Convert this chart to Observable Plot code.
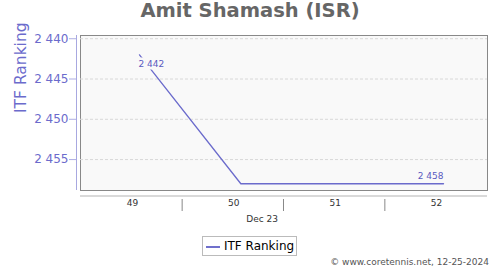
<!DOCTYPE html>
<html><head><meta charset="utf-8">
<script src="https://cdn.jsdelivr.net/npm/d3@7"></script>
<script src="https://cdn.jsdelivr.net/npm/@observablehq/plot@0.6"></script>
<style>
body{margin:0;background:#fff;font-family:"DejaVu Sans",sans-serif;}
#wrap{position:relative;width:500px;height:270px;overflow:hidden;}
#wrap svg{position:absolute;left:0;top:0;}
.title{position:absolute;left:0;width:500px;top:-1px;text-align:center;font-weight:bold;font-size:19.5px;color:#666;white-space:nowrap;}
.legend{position:absolute;left:202px;top:236px;width:93px;height:18px;border:1px solid #bbb;background:#fff;}
.legend .sw{position:absolute;left:3px;top:9px;width:14px;height:0;border-top:2px solid #7070cc;}
.legend .lt{position:absolute;left:21px;top:2px;font-size:12px;color:#000;white-space:nowrap;}
.footer{position:absolute;right:11px;top:257px;font-size:9px;color:#555;white-space:nowrap;}
</style>
</head><body>
<div id="wrap">
  <div class="title">Amit Shamash (ISR)</div>
  <div class="legend"><div class="sw"></div><div class="lt">ITF Ranking</div></div>
  <div class="footer">© www.coretennis.net, 12-25-2024</div>
</div>
<script>
const weeks = [49, 50, 51, 52];
const weekLabels = ["49", "50", "51", "52"];
const ranking = [2442, 2458, 2458, 2458];
const yTicks = [2440, 2445, 2450, 2455];
const separators = [49.5, 50.5, 51.5];
const monthLabels = ["Dec 23"];
const monthPos = [50.21];
const seriesName = "ITF Ranking";

const xDomain = [48.418, 52.434];
const yDomain = [2458.84, 2439.6];

const fmt = d3.formatLocale({decimal: ".", thousands: " ", grouping: [3], currency: ["", ""]}).format(",d");
const data = weeks.map((w, i) => ({week: w, rank: ranking[i]}));
const firstPt = [data[0]];
const lastPt = [data[data.length - 1]];

const lineColor = "#6b6bcc";
const axisColor = "#6b6bcc";

const chart = Plot.plot({
  width: 500, height: 270,
  marginLeft: 80, marginRight: 13, marginTop: 35, marginBottom: 80,
  style: {fontFamily: "DejaVu Sans", background: "transparent", overflow: "visible"},
  x: {domain: xDomain, axis: null},
  y: {domain: yDomain, axis: null},
  marks: [
    Plot.frame({fill: "#f9f9f9", stroke: "#888", strokeWidth: 1}),
    Plot.gridY(yTicks, {stroke: "#d8d8d8", strokeOpacity: 1, strokeDasharray: "3,2"}),
    Plot.axisY(yTicks, {anchor: "left", tickSize: 7, tickPadding: 1, dx: -4, fontSize: 12, color: axisColor, strokeOpacity: 0.55, tickFormat: fmt, label: null}),
    Plot.ruleX([xDomain[0]], {y1: yDomain[0], y2: yDomain[1], dx: -4, stroke: "#a8a8e0"}),
    Plot.text([seriesName], {frameAnchor: "left", dx: -59, rotate: -90, fontSize: 15.5, fill: axisColor}),
    Plot.ruleY([yDomain[0]], {x1: xDomain[0], x2: xDomain[1], dy: 5.5, stroke: "#ccc", strokeWidth: 1.5}),
    Plot.axisX(separators, {anchor: "bottom", tickSize: 12, dy: 9, dx: -8, tickFormat: () => "", stroke: "#888", strokeOpacity: 1, label: null}),
    Plot.axisX(weeks, {anchor: "bottom", tickSize: 0, tickPadding: 9, dx: -7, fontSize: 9, color: "#333", tickFormat: d => weekLabels[weeks.indexOf(d)], label: null}),
    Plot.text(monthLabels, {x: monthPos, frameAnchor: "bottom", dy: 31, fontSize: 9, fill: "#333"}),
    Plot.line(data, {x: "week", y: "rank", stroke: lineColor, strokeWidth: 1.3}),
    Plot.text(firstPt, {x: "week", y: "rank", text: d => fmt(d.rank), textAnchor: "start", dx: -1, dy: 9, fontSize: 9, fill: "#5a5ac0", stroke: "#f9f9f9", strokeWidth: 5}),
    Plot.text(lastPt, {x: "week", y: "rank", text: d => fmt(d.rank), textAnchor: "end", dy: -8, fontSize: 9, fill: "#5a5ac0"})
  ]
});
document.getElementById("wrap").prepend(chart);
</script>
</body></html>
